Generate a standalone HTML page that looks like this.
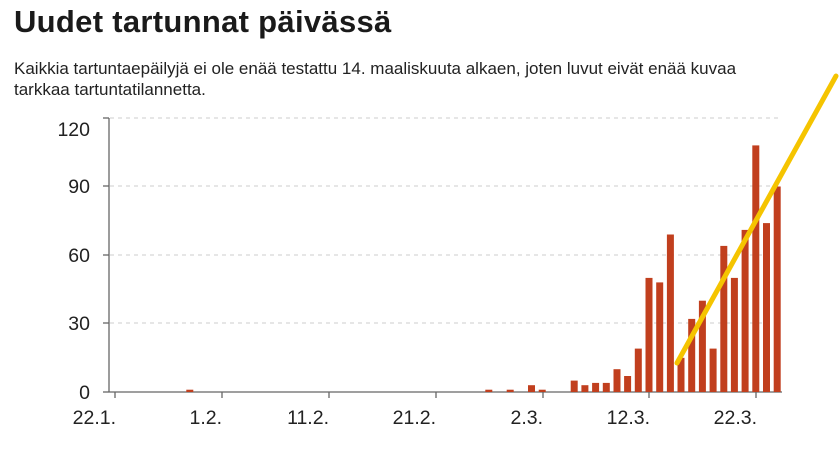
<!DOCTYPE html>
<html><head><meta charset="utf-8"><style>
body{margin:0;background:#fff;width:839px;height:454px;overflow:hidden;font-family:"Liberation Sans",sans-serif;color:#1a1a1a}
h1{position:absolute;left:14px;top:4px;margin:0;font-size:31px;font-weight:bold;letter-spacing:0.3px}
p{position:absolute;left:14px;top:58px;margin:0;font-size:17px;line-height:21px;color:#222;width:830px;white-space:nowrap}
svg{position:absolute;left:0;top:0}
</style></head><body>
<h1>Uudet tartunnat päivässä</h1>
<p>Kaikkia tartuntaepäilyjä ei ole enää testattu 14. maaliskuuta alkaen, joten luvut eivät enää kuvaa<br>tarkkaa tartuntatilannetta.</p>
<svg width="839" height="454" font-family="Liberation Sans, sans-serif">
<g stroke="#ccc" stroke-dasharray="4,4" stroke-width="1">
<line x1="110" y1="118" x2="782" y2="118"/><line x1="110" y1="186" x2="782" y2="186"/><line x1="110" y1="255" x2="782" y2="255"/><line x1="110" y1="323" x2="782" y2="323"/>
</g>
<g stroke="#666" stroke-width="1.3">
<line x1="109" y1="118" x2="109" y2="392"/>
<line x1="103" y1="118" x2="109" y2="118"/><line x1="103" y1="186" x2="109" y2="186"/><line x1="103" y1="255" x2="109" y2="255"/><line x1="103" y1="323" x2="109" y2="323"/><line x1="103" y1="392" x2="109" y2="392"/>
<line x1="109" y1="392" x2="782" y2="392"/>
<line x1="115" y1="392" x2="115" y2="398"/><line x1="222" y1="392" x2="222" y2="398"/><line x1="329" y1="392" x2="329" y2="398"/><line x1="436" y1="392" x2="436" y2="398"/><line x1="543" y1="392" x2="543" y2="398"/><line x1="649" y1="392" x2="649" y2="398"/><line x1="756" y1="392" x2="756" y2="398"/>
</g>
<g font-size="19.5" fill="#222" text-anchor="end">
<text x="90" y="136">120</text><text x="90" y="193">90</text><text x="90" y="262">60</text><text x="90" y="330">30</text><text x="90" y="399">0</text>
</g>
<g font-size="19.5" fill="#222" text-anchor="end">
<text x="116" y="424">22.1.</text><text x="222" y="424">1.2.</text><text x="329" y="424">11.2.</text><text x="436" y="424">21.2.</text><text x="543" y="424">2.3.</text><text x="650" y="424">12.3.</text><text x="757" y="424">22.3.</text>
</g>
<g fill="#c13f1e" id="bars"></g>
<line x1="677" y1="363" x2="836" y2="76" stroke="#f5c400" stroke-width="5" stroke-linecap="round"/>
</svg>
<script>
var d={7:1,35:1,37:1,39:3,40:1,43:5,44:3,45:4,46:4,47:10,48:7,49:19,50:50,51:48,52:69,53:15,54:32,55:40,56:19,57:64,58:50,59:71,60:108,61:74,62:90};
var g=document.getElementById('bars'),s='';
for(var k in d){var x=115+k*10.68-3.5,h=d[k]*2.283;s+='<rect x="'+x.toFixed(1)+'" y="'+(392-h).toFixed(1)+'" width="7" height="'+h.toFixed(1)+'"/>';}
g.innerHTML=s;
</script>
</body></html>
